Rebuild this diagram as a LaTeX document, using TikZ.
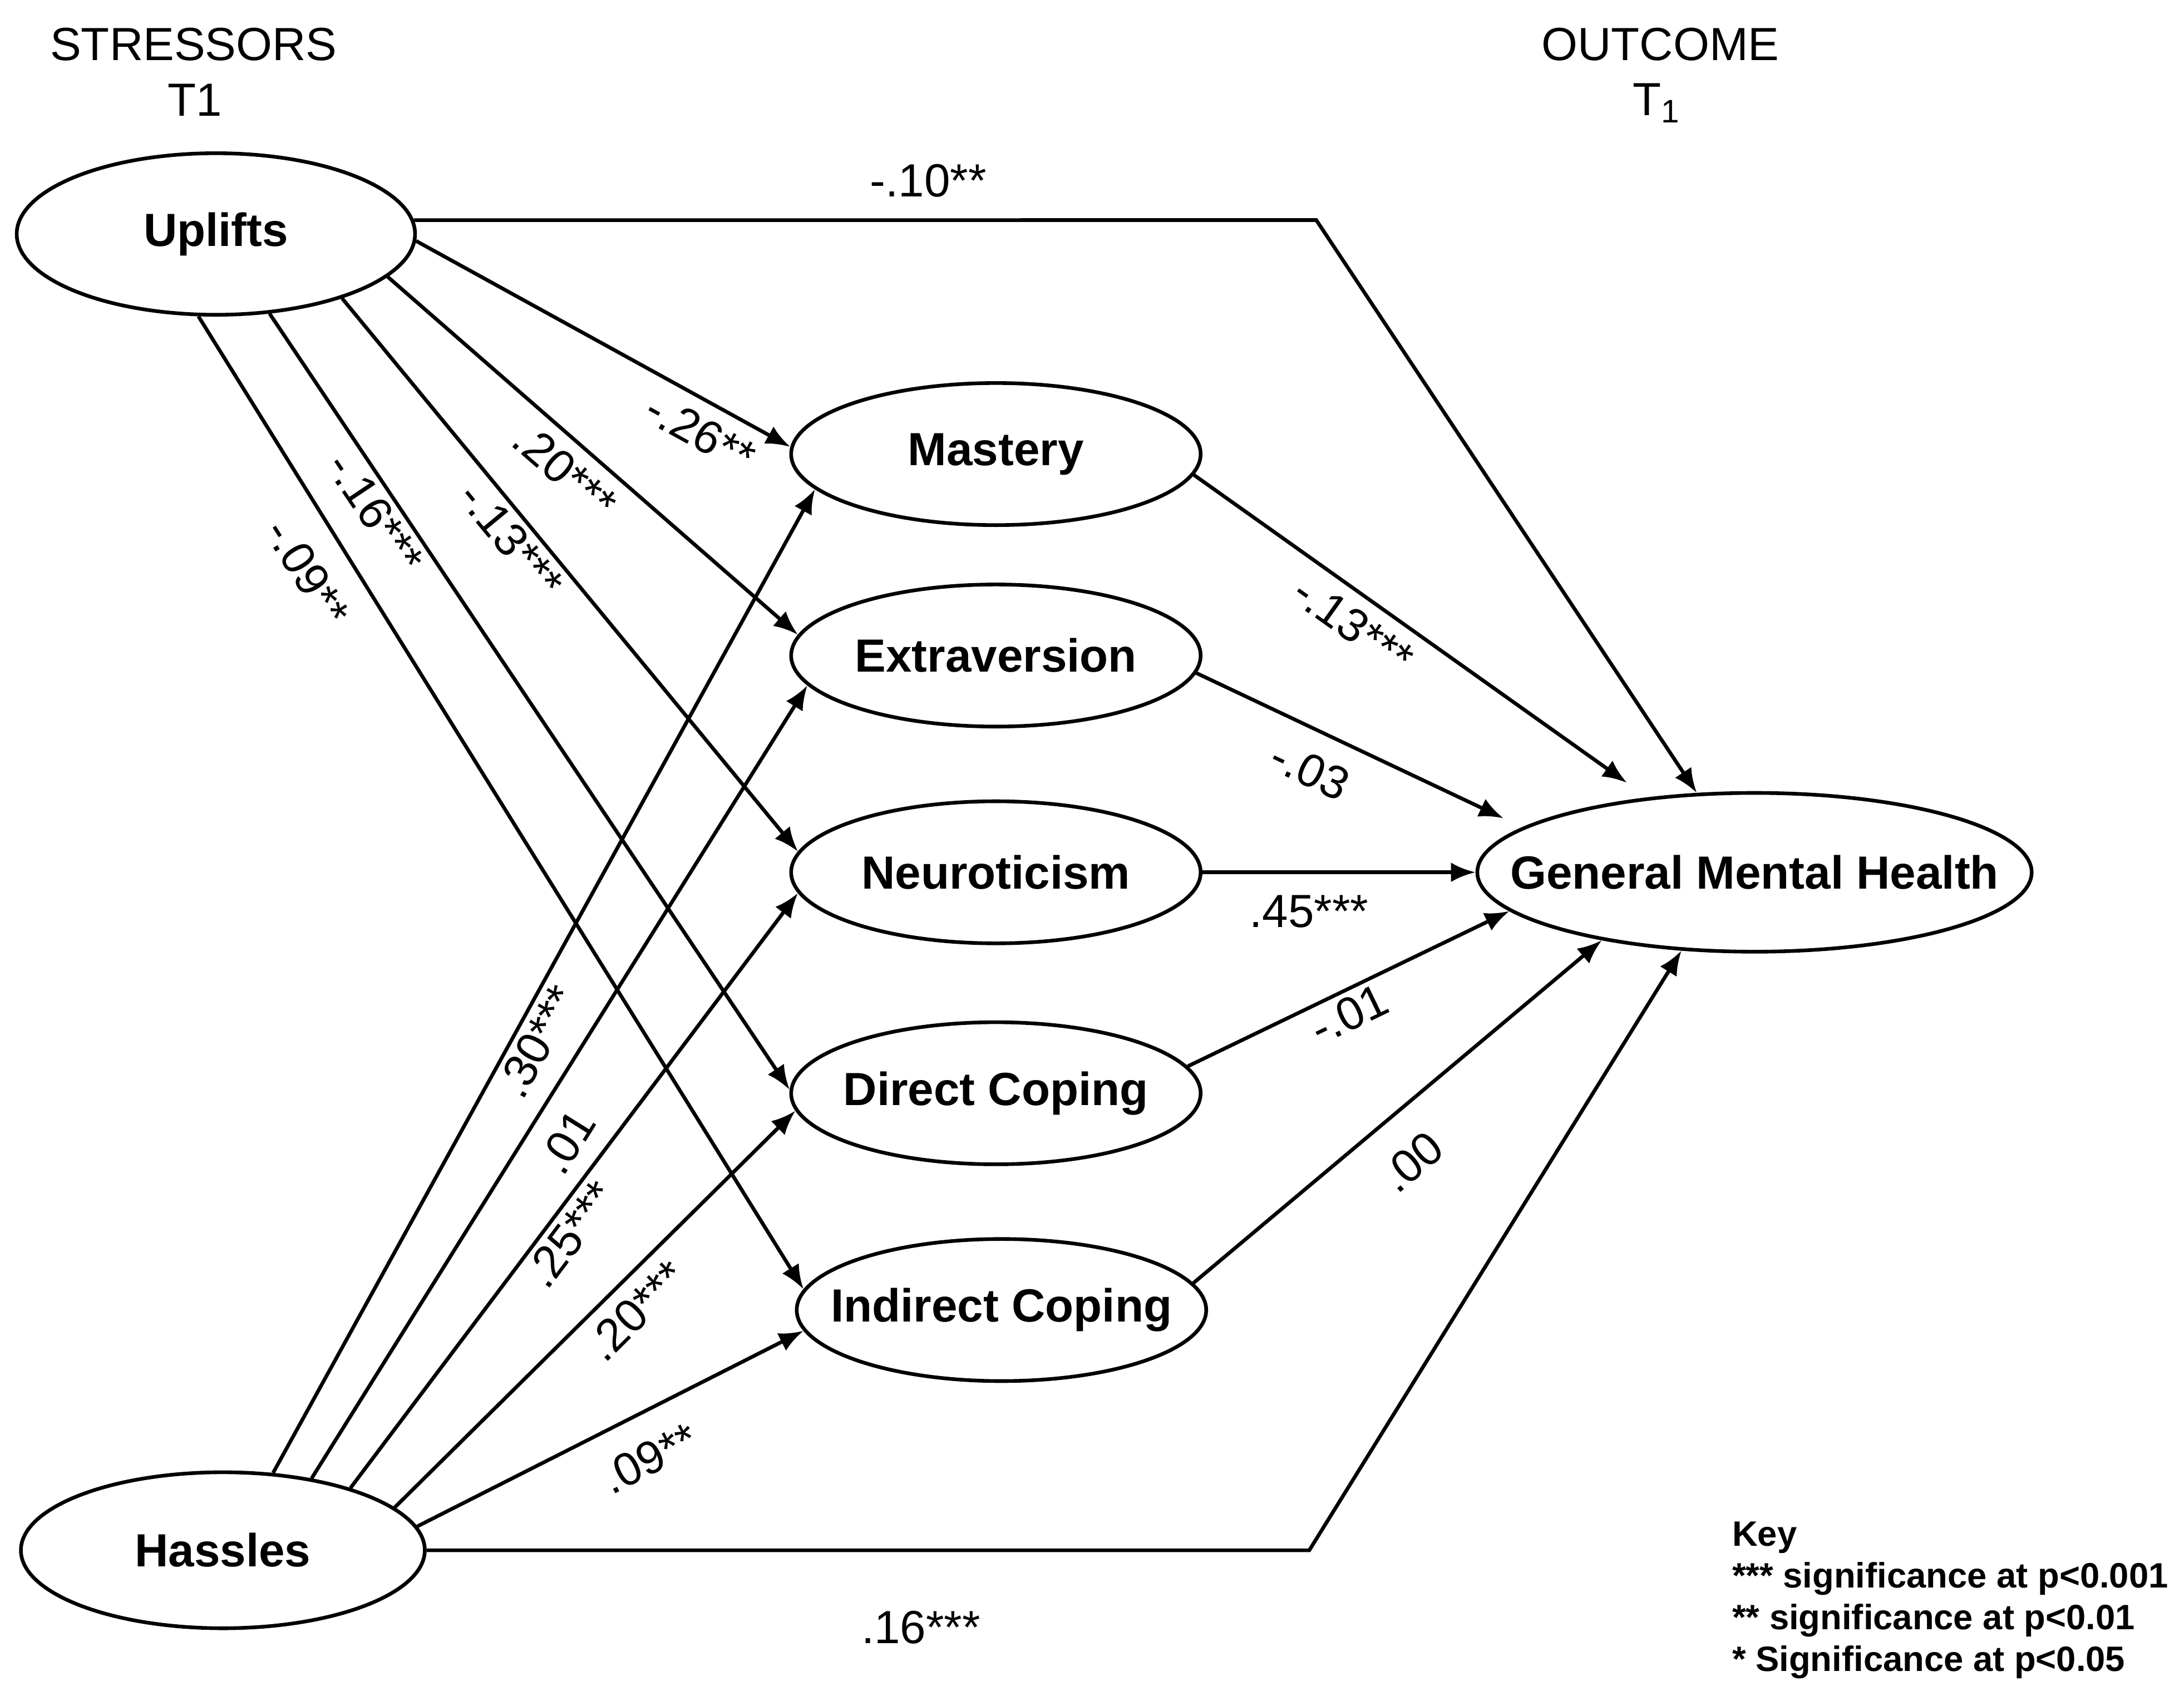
\documentclass[tikz,border=0pt]{standalone}
\usepackage{fontspec}
\setmainfont{Liberation Sans}
\usetikzlibrary{arrows.meta, positioning, shapes.geometric}
\newcommand\ovtxt[1]{\makebox[0pt]{#1}}

\begin{document}
\begin{tikzpicture}[x=0.1mm, y=-0.1mm, >={Latex[length=5pt,width=4pt]},
        lv/.style={draw, ellipse, line width=0.75pt, inner sep=0pt,
            font=\bfseries\fontsize{9.5}{11}\selectfont},
        med/.style={lv, minimum width=29.4mm, minimum height=10.2mm},
        hd/.style={inner sep=0pt, font=\fontsize{9.5}{11}\selectfont},
        cf/.style={inner sep=1pt, font=\fontsize{9.5}{11}\selectfont},
        pth/.style={line width=0.75pt}]
    \useasboundingbox (0,0) rectangle (1568,1214);
    \node(sthd)[hd] at (139,32) {STRESSORS};
    \node(stt)[hd] at (140,72) {T1};
    \node(ouhd)[hd] at (1192,32) {OUTCOME};
    \node(out)[hd] at (1190,74) {T\textsubscript{1}};
    % stressors
    \node(upl)[lv, minimum width=28.6mm, minimum height=11.6mm] at (155,168) {\ovtxt{Uplifts}};
    \node(has)[lv, minimum width=29mm, minimum height=11.2mm] at (160,1113) {\ovtxt{Hassles}};
    % mediators
    \node(mas)[med] at (715,326) {\ovtxt{Mastery}};
    \node(ext)[med, below=4mm of mas] {\ovtxt{Extraversion}};
    \node(neu)[med, below=5.1mm of ext] {\ovtxt{Neuroticism}};
    \node(dir)[med, below=5.4mm of neu] {\ovtxt{Direct Coping}};
    \node(ind)[med, below=5.1mm of dir, xshift=0.4mm] {\ovtxt{Indirect Coping}};
    % outcome
    \node(gmh)[lv, minimum width=39.8mm, minimum height=11.4mm, right=19.6mm of neu] {\ovtxt{General Mental Health}};
    \coordinate(ub) at (945,158);
    \coordinate(hb) at (940,1113);
    \draw[pth,->] (upl.4) -- node[cf, above=3.3pt, pos=0.57] {-.10**} (ub) -- (gmh.126);
    \draw[pth,->] (has.0) -- node[cf, below=11pt, pos=0.56] {.16***} (hb) -- (gmh.227);

    \draw[pth,->] (upl.-2) -- node[cf, sloped, below=1.6pt, pos=0.8] {-.26**} (mas.178);
    \draw[pth,->] (upl.-14) -- node[cf, sloped, below=1.4pt, pos=0.48] {.20***} (ext.174);
    \draw[pth,->] (upl.-27) -- node[cf, sloped, below=0pt, pos=0.41] {-.13***} (neu.174);
    \draw[pth,->] (upl.-56) -- node[cf, sloped, below=0pt, pos=0.24] {-.16***} (dir.179);
    \draw[pth,->] (upl.-102) -- node[cf, sloped, below=4pt, pos=0.24] {-.09**} (ind.174);

    \draw[pth,->] (has.57) -- node[cf, sloped, below=0pt, pos=0.45] {.30***} (mas.191);
    \draw[pth,->] (has.39) -- node[cf, sloped, below=3pt, pos=0.45] {.01} (ext.189);
    \draw[pth,->] (has.26) -- node[cf, sloped, below=0pt, pos=0.45] {.25***} (neu.186);
    \draw[pth,->] (has.14) -- node[cf, sloped, below=1.4pt, pos=0.55] {.20***} (dir.185);
    \draw[pth,->] (has.7) -- node[cf, sloped, below=4.3pt, pos=0.55] {.09**} (ind.186);

    \draw[pth,->, shorten >=1.8mm] (mas.-6) -- node[cf, sloped, below=1.4pt, pos=0.39] {-.13***} (gmh.145);
    \draw[pth,->, shorten >=1.5mm] (ext.-5) -- node[cf, sloped, below=3.3pt, pos=0.4] {-.03} (gmh.169);
    \draw[pth,->] (neu.0) -- node[cf, below=3.3pt, pos=0.39] {.45***} (gmh.180);
    \draw[pth,->] (dir.8) -- node[cf, sloped, below=0pt, pos=0.47] {-.01} (gmh.189);
    \draw[pth,->] (ind.8) -- node[cf, sloped, below=5pt, pos=0.46] {.00} (gmh.204);
    % key
    \node(key)[anchor=north west, align=left, inner sep=0pt,
        font=\bfseries\fontsize{7.2}{8.5}\selectfont] at (1243,1092)
        {Key\\{}*** significance at p<0.001\\{}** significance at p<0.01\\{}* Significance at p<0.05};
\end{tikzpicture}
\end{document}
